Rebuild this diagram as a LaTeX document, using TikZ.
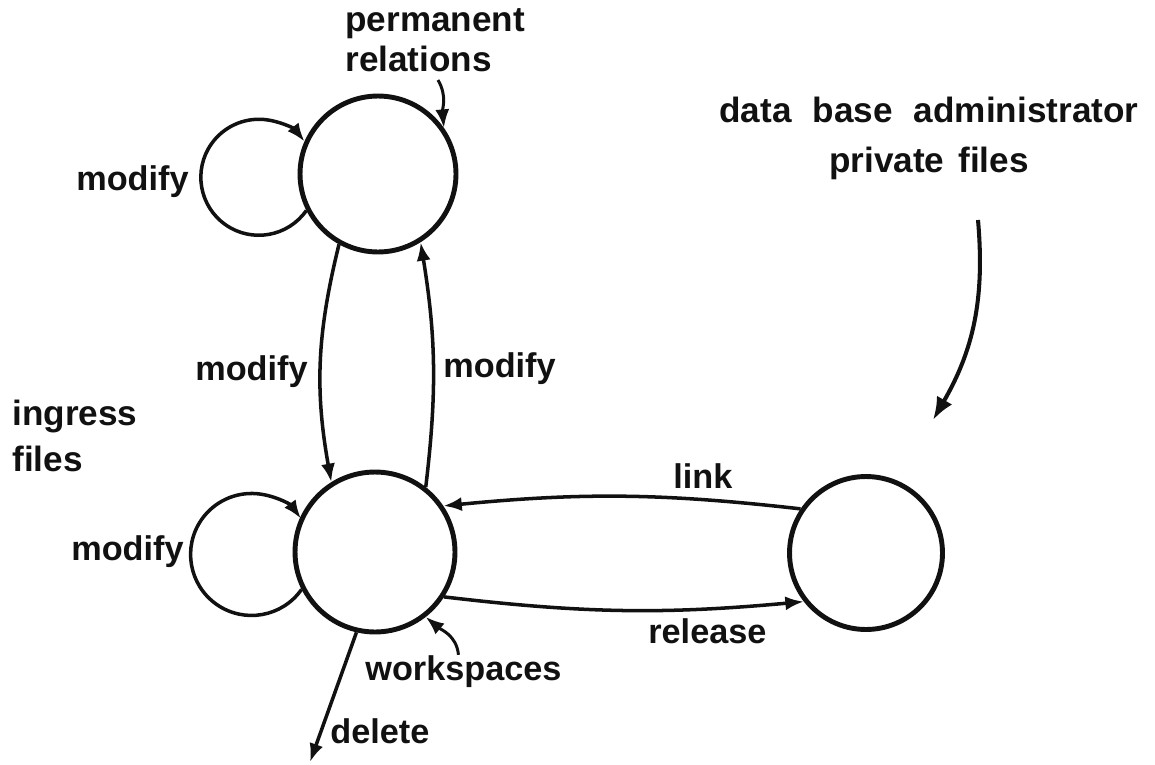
\documentclass[tikz,border=0pt]{standalone}
\usepackage{fontspec}
\setmainfont{Liberation Sans}
\usepackage{tikz}
\usetikzlibrary{arrows.meta}
\definecolor{inkc}{HTML}{111111}

\begin{document}
\begin{tikzpicture}[x=0.02cm, y=-0.02cm,
  state/.style={draw=inkc, circle, line width=2.8pt, inner sep=0pt},
  conn/.style={draw=inkc, line width=2pt, -{Latex[length=10.5pt,width=8pt]}},
  lbl/.style={font=\fontsize{19.5}{24}\selectfont\bfseries, inner sep=0pt, anchor=base west, text=inkc}]
  \useasboundingbox (0,0) rectangle (1155,764);
  % the three stores
  \node[state, minimum size=3.12cm] (perm) at (378,174) {};
  \node[state, minimum size=3.2cm] (work) at (375,552) {};
  \node[state, minimum size=3.06cm] (priv) at (866,553) {};
  % texts
  \node[lbl, anchor=north west, align=left, font=\fontsize{20}{22.7}\selectfont\bfseries] (permL) at (345,8) {permanent\\relations};
  \node[lbl, anchor=north, align=center, font=\fontsize{20}{28.4}\selectfont\bfseries] (privL) at (929,97) {data\hspace{0.6em}base\hspace{0.6em}administrator\\private\hspace{0.4em}files};
  \node[lbl, anchor=north west, align=left, font=\fontsize{20}{26}\selectfont\bfseries] (ingL) at (12,400) {ingress\\files};
  \node[lbl] (modPerm) at (76,190) {modify};
  \node[lbl] (modDown) at (195,380) {modify};
  \node[lbl] (modUp) at (443,377) {modify};
  \node[lbl] (modWork) at (71,560) {modify};
  \node[lbl] (linkL) at (673,488) {link};
  \node[lbl] (relL) at (648,643) {release};
  \node[lbl] (workL) at (365,680) {workspaces};
  \node[lbl] (delL) at (330,743) {delete};
  \coordinate (permTail) at (438,80);
  \coordinate (privTail) at (978,220);
  \coordinate (privHead) at (933,420);
  \coordinate (delEnd) at (310,762);
  % self loops
  \draw[conn] (perm.207) arc[start angle=-35, end angle=-322, radius=1.16cm];
  \draw[conn] (work.207) arc[start angle=-35, end angle=-324, radius=1.22cm];
  % moves between stores
  \draw[conn] (perm.241) to[bend right=12] (work.122);
  \draw[conn] (work.52) to[bend right=8] (perm.302);
  \draw[conn] (priv.146) to[bend right=6] (work.34);
  \draw[conn] (work.-33) to[bend right=6] (priv.218);
  \draw[conn] (work.257) -- (delEnd);
  % pointers from the texts
  \draw[conn, line width=1.7pt] (permTail) to[out=-60, in=95] (perm.35);
  \draw[conn, line width=1.7pt] ([xshift=-0.1cm]workL.north) to[out=95, in=-40] (work.-52);
  \draw[conn, line width=2.3pt, -{Latex[length=13pt,width=10pt]}] (privTail) to[out=-85, in=60] (privHead);
\end{tikzpicture}
\end{document}
